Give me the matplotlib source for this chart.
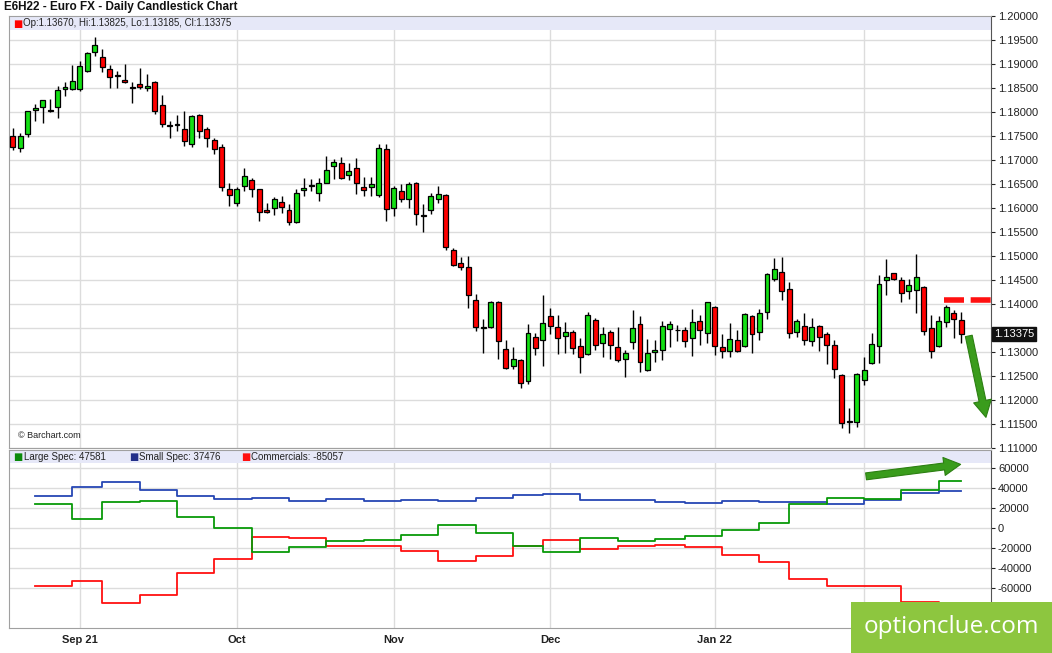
import numpy as np
import matplotlib.pyplot as plt
from matplotlib.patches import Rectangle

plt.rcParams['font.family'] = ['Liberation Sans', 'DejaVu Sans']

# daily candles, Aug 19 2021 .. Feb 18 2022 (trading-day index)
opens = [1.1749, 1.1725, 1.1754, 1.1804, 1.1810, 1.1804, 1.1811, 1.1847, 1.1847, 1.1847,
         1.1885, 1.1925, 1.1914, 1.1890, 1.1877, 1.1867, 1.1852, 1.1858, 1.1849, 1.1862,
         1.1815, 1.1772, 1.1773, 1.1765, 1.1733, 1.1793, 1.1765, 1.1741, 1.1727, 1.1640,
         1.1610, 1.1646, 1.1659, 1.1639, 1.1596, 1.1599, 1.1612, 1.1595, 1.1571, 1.1637,
         1.1646, 1.1631, 1.1652, 1.1688, 1.1694, 1.1668, 1.1683, 1.1644, 1.1644, 1.1628,
         1.1722, 1.1599, 1.1635, 1.1618, 1.1653, 1.1585, 1.1596, 1.1619, 1.1628, 1.1513,
         1.1485, 1.1478, 1.1408, 1.1351, 1.1351, 1.1405, 1.1307, 1.1271, 1.1283, 1.1240,
         1.1332, 1.1324, 1.1374, 1.1352, 1.1334, 1.1341, 1.1313, 1.1296, 1.1367, 1.1318,
         1.1341, 1.1310, 1.1285, 1.1320, 1.1358, 1.1263, 1.1299, 1.1304, 1.1347, 1.1346,
         1.1346, 1.1328, 1.1365, 1.1339, 1.1393, 1.1311, 1.1301, 1.1325, 1.1313, 1.1374,
         1.1342, 1.1384, 1.1453, 1.1467, 1.1431, 1.1342, 1.1353, 1.1323, 1.1354, 1.1337,
         1.1315, 1.1252, 1.1156, 1.1155, 1.1242, 1.1276, 1.1313, 1.1450, 1.1464, 1.1449,
         1.1426, 1.1429, 1.1436, 1.1349, 1.1313, 1.1363, 1.1381, 1.13670]
highs = [1.1767, 1.1756, 1.1803, 1.1817, 1.1826, 1.1828, 1.1855, 1.1862, 1.1897, 1.1906,
         1.1924, 1.1956, 1.1931, 1.1898, 1.1886, 1.1899, 1.1862, 1.1892, 1.1879, 1.1865,
         1.1836, 1.1782, 1.1794, 1.1801, 1.1794, 1.1795, 1.1769, 1.1746, 1.1734, 1.1652,
         1.1644, 1.1684, 1.1663, 1.1640, 1.1611, 1.1623, 1.1624, 1.1609, 1.1639, 1.1663,
         1.1660, 1.1663, 1.1708, 1.1701, 1.1706, 1.1694, 1.1705, 1.1665, 1.1665, 1.1734,
         1.1733, 1.1646, 1.1649, 1.1654, 1.1654, 1.1608, 1.1631, 1.1646, 1.1630, 1.1517,
         1.1497, 1.1499, 1.1420, 1.1368, 1.1406, 1.1406, 1.1324, 1.1311, 1.1286, 1.1358,
         1.1340, 1.1418, 1.1392, 1.1377, 1.1362, 1.1346, 1.1328, 1.1383, 1.1370, 1.1351,
         1.1346, 1.1351, 1.1304, 1.1388, 1.1375, 1.1326, 1.1325, 1.1365, 1.1365, 1.1356,
         1.1351, 1.1389, 1.1377, 1.1405, 1.1396, 1.1338, 1.1361, 1.1346, 1.1382, 1.1377,
         1.1389, 1.1465, 1.1495, 1.1497, 1.1445, 1.1369, 1.1382, 1.1370, 1.1356, 1.1342,
         1.1324, 1.1253, 1.1183, 1.1257, 1.1289, 1.1339, 1.1460, 1.1493, 1.1465, 1.1456,
         1.1453, 1.1504, 1.1438, 1.1377, 1.1375, 1.1398, 1.1388, 1.13825]
lows = [1.1720, 1.1717, 1.1747, 1.1781, 1.1778, 1.1799, 1.1787, 1.1834, 1.1845, 1.1844,
        1.1884, 1.1916, 1.1884, 1.1849, 1.1851, 1.1860, 1.1819, 1.1848, 1.1844, 1.1796,
        1.1769, 1.1745, 1.1761, 1.1730, 1.1726, 1.1746, 1.1727, 1.1713, 1.1635, 1.1604,
        1.1604, 1.1635, 1.1623, 1.1573, 1.1590, 1.1585, 1.1590, 1.1565, 1.1569, 1.1625,
        1.1635, 1.1615, 1.1651, 1.1661, 1.1661, 1.1658, 1.1630, 1.1625, 1.1625, 1.1623,
        1.1573, 1.1583, 1.1613, 1.1599, 1.1564, 1.1550, 1.1587, 1.1610, 1.1513, 1.1479,
        1.1471, 1.1392, 1.1344, 1.1297, 1.1349, 1.1285, 1.1265, 1.1264, 1.1224, 1.1233,
        1.1293, 1.1271, 1.1337, 1.1295, 1.1297, 1.1296, 1.1257, 1.1294, 1.1304, 1.1290,
        1.1285, 1.1280, 1.1247, 1.1306, 1.1259, 1.1261, 1.1280, 1.1283, 1.1311, 1.1322,
        1.1310, 1.1292, 1.1315, 1.1319, 1.1294, 1.1287, 1.1290, 1.1299, 1.1311, 1.1297,
        1.1325, 1.1368, 1.1447, 1.1408, 1.1328, 1.1331, 1.1315, 1.1313, 1.1302, 1.1274,
        1.1245, 1.1141, 1.1132, 1.1144, 1.1231, 1.1275, 1.1276, 1.1419, 1.1450, 1.1403,
        1.1410, 1.1381, 1.1335, 1.1287, 1.1310, 1.1351, 1.1328, 1.13185]
closes = [1.1726, 1.1749, 1.1801, 1.1808, 1.1824, 1.1802, 1.1845, 1.1853, 1.1864, 1.1895,
          1.1923, 1.1939, 1.1893, 1.1872, 1.1876, 1.1862, 1.1851, 1.1853, 1.1854, 1.1801,
          1.1775, 1.1770, 1.1774, 1.1739, 1.1792, 1.1760, 1.1746, 1.1722, 1.1644, 1.1628,
          1.1640, 1.1667, 1.1640, 1.1592, 1.1592, 1.1618, 1.1602, 1.1571, 1.1631, 1.1642,
          1.1648, 1.1651, 1.1680, 1.1696, 1.1662, 1.1676, 1.1653, 1.1637, 1.1649, 1.1725,
          1.1598, 1.1642, 1.1618, 1.1649, 1.1587, 1.1584, 1.1624, 1.1630, 1.1519, 1.1481,
          1.1478, 1.1419, 1.1351, 1.1350, 1.1405, 1.1323, 1.1267, 1.1286, 1.1235, 1.1339,
          1.1309, 1.1360, 1.1353, 1.1328, 1.1341, 1.1308, 1.1290, 1.1376, 1.1315, 1.1337,
          1.1315, 1.1283, 1.1297, 1.1349, 1.1278, 1.1297, 1.1303, 1.1354, 1.1358, 1.1345,
          1.1323, 1.1363, 1.1346, 1.1403, 1.1313, 1.1302, 1.1326, 1.1302, 1.1378, 1.1338,
          1.1382, 1.1462, 1.1473, 1.1426, 1.1339, 1.1365, 1.1324, 1.1351, 1.1332, 1.1315,
          1.1265, 1.1151, 1.1154, 1.1253, 1.1263, 1.1317, 1.1442, 1.1457, 1.1452, 1.1422,
          1.1440, 1.1457, 1.1344, 1.1302, 1.1365, 1.1394, 1.1368, 1.13375]

month_pos = [9, 30, 51, 72, 94, 114]
month_labels = ['Sep 21', 'Oct', 'Nov', 'Dec', 'Jan 22', '']  # Feb label sits under the badge

# weekly COT report dates (trading-day index) and net positions
cot_pos = [3, 8, 12, 17, 22, 27, 32, 37, 42, 47, 52, 57, 62, 67, 71, 76, 81, 86, 90, 95,
           100, 104, 109, 114, 119, 124]
large_spec = [24300, 9600, 26000, 27600, 11600, 0, -23400, -19000, -12700, -11500,
              -6300, 3300, -4700, -17400, -24000, -9400, -12700, -11000, -7400, -2000,
              5600, 24300, 30600, 29000, 38300, 47581]
small_spec = [32300, 41000, 46600, 38300, 32300, 29300, 30000, 27000, 29600, 26800,
              28300, 27600, 30600, 33000, 34300, 28600, 28600, 26000, 25000, 27600,
              26600, 26000, 24500, 28300, 35000, 37476]
commercials = [-57700, -53000, -74400, -67000, -45000, -31000, -9000, -10000, -18000, -17200,
               -23000, -33000, -28000, -17400, -11700, -20700, -17400, -16400, -19000, -27000,
               -34000, -50700, -57400, -57700, -73300, -85057]

price_ticks = np.arange(1.11, 1.2001, 0.005)
cot_ticks = [-60000, -40000, -20000, 0, 20000, 40000, 60000]

W, H = 1052, 653
fig = plt.figure(figsize=(W / 100, H / 100), dpi=100)
fig.patch.set_facecolor('white')

L, R = 9.5 / W, 991 / W
ax = fig.add_axes([L, 1 - 448 / H, R - L, (448 - 16) / H])
ax2 = fig.add_axes([L, 1 - 628 / H, R - L, (628 - 450) / H], sharex=ax)

grid_c = '#dcdcdc'
spine_c = '#a0a0a0'
n = len(opens)
x = np.arange(n)
o = np.array(opens); c = np.array(closes)
hi = np.array(highs); lo = np.array(lows)
up = c >= o
cols = np.where(up, '#14e014', '#ff0000')

# ---- price panel ----
ax.vlines(x, lo, hi, color='black', lw=1, zorder=3)
ax.bar(x, np.maximum(np.abs(c - o), 0.00006), bottom=np.minimum(o, c), width=0.66,
       color=cols, edgecolor='black', linewidth=0.9, zorder=4)

ax.set_xlim(-0.43, 131.0)
ax.set_ylim(1.10998, 1.2)
ax.set_yticks(price_ticks)
# the last-price tag covers the 1.13500 label
ax.set_yticklabels(['' if abs(t - c[-1]) < 0.002 else '%.5f' % t for t in price_ticks])
ax.yaxis.tick_right()
ax.tick_params(axis='y', labelsize=8, length=3, pad=2, colors='#222222')
ax.tick_params(axis='x', labelbottom=False, length=0)
ax.set_xticks(month_pos)
ax.grid(True, color=grid_c, lw=1)
ax.set_axisbelow(True)
for s in ['left', 'top', 'bottom']:
    ax.spines[s].set_color(spine_c)
ax.spines['right'].set_color('#555555')

ax.add_patch(Rectangle((0, 1 - 14 / 432), 1, 14 / 432, transform=ax.transAxes,
                       facecolor='#e6e8f8', edgecolor='none', zorder=1))
ax.text(13 / W, 1 - 23.5 / H, '\u25a0', transform=fig.transFigure, color='#ff0000',
        fontsize=7, va='center', ha='left', family=['DejaVu Sans'])
ax.text(23 / W, 1 - 23.5 / H, 'Op:%.5f, Hi:%.5f, Lo:%.5f, Cl:%.5f' % (o[-1], hi[-1], lo[-1], c[-1]),
        transform=fig.transFigure, fontsize=7, va='center', ha='left', color='#222222')
fig.text(4 / W, 1 - 7 / H, 'E6H22 - Euro FX - Daily Candlestick Chart', fontsize=8.5,
         fontweight='bold', va='center', ha='left', color='#111111')
ax.text(18 / W, 1 - 436 / H, '\u00a9 Barchart.com', transform=fig.transFigure,
        fontsize=6.5, va='center', ha='left', color='#222222')

# last price tag
ax.text(1.003, c[-1], '%.5f' % c[-1], transform=ax.get_yaxis_transform(), fontsize=8,
        color='white', va='center', ha='left', clip_on=False, zorder=6,
        bbox=dict(boxstyle='square,pad=0.15', fc='#111111', ec='#111111'))

# resistance marker and bearish arrow
ax.plot([124.7, 131.0], [1.1409, 1.1409], color='#ff1010', lw=4,
        linestyle=(0, (3.6, 1.2)), solid_capstyle='butt', zorder=5, clip_on=False)
ax.annotate('', xy=(130.4, 1.1158), xytext=(127.95, 1.1339),
            arrowprops=dict(arrowstyle='simple,head_width=1.3,head_length=1.2,tail_width=0.5',
                            fc='#3a9c1c', ec='#2c7f12', lw=0.8), zorder=7, annotation_clip=False)

# ---- COT panel ----
ext = cot_pos + [n - 1]
for vals, col in [(small_spec, '#2646b4'), (commercials, '#ff1010'), (large_spec, '#089a08')]:
    ax2.step(ext, vals + [vals[-1]], where='post', color=col, lw=1.3, zorder=3)

ax2.set_ylim(-99700, 78300)
ax2.set_yticks(cot_ticks)
ax2.set_yticklabels([str(t) for t in cot_ticks])
ax2.yaxis.tick_right()
ax2.tick_params(axis='y', labelsize=8, length=3, pad=2, colors='#222222')
ax2.set_xticks(month_pos)
ax2.set_xticklabels(month_labels, fontweight='bold', fontsize=8)
ax2.tick_params(axis='x', length=0, pad=5, colors='#222222')
ax2.grid(True, color=grid_c, lw=1)
ax2.set_axisbelow(True)
for s in ['left', 'top', 'bottom']:
    ax2.spines[s].set_color(spine_c)
ax2.spines['right'].set_color('#555555')

ax2.add_patch(Rectangle((0, 1 - 13 / 178), 1, 13 / 178, transform=ax2.transAxes,
                        facecolor='#e6e8f8', edgecolor='none', zorder=1))
legend_items = [('Large Spec: %d' % large_spec[-1], '#0a8a0a', 13, 24),
                ('Small Spec: %d' % small_spec[-1], '#23308a', 129, 139),
                ('Commercials: %d' % commercials[-1], '#ff1010', 241, 251)]
for label, col, xs, xt in legend_items:
    fig.text(xs / W, 1 - 457 / H, '\u25a0', color=col, fontsize=7, va='center', ha='left',
             family=['DejaVu Sans'])
    fig.text(xt / W, 1 - 457 / H, label, fontsize=7, va='center', ha='left', color='#222222')

ax2.annotate('', xy=(127.3, 64300), xytext=(113.9, 51600),
             arrowprops=dict(arrowstyle='simple,head_width=1.3,head_length=1.2,tail_width=0.5',
                             fc='#3a9c1c', ec='#2c7f12', lw=0.8), zorder=7, annotation_clip=False)

# site badge
fig.patches.append(Rectangle((851 / W, 0), 1 - 851 / W, 51 / H, transform=fig.transFigure,
                             facecolor='#8dc63f', edgecolor='none', zorder=10))
fig.text(951 / W, 1 - 627 / H, 'optionclue.com', color='white', fontsize=17.5,
         family=['Open Sans', 'DejaVu Sans'], ha='center', va='center', zorder=11)

fig.savefig('out.png', dpi=100)
